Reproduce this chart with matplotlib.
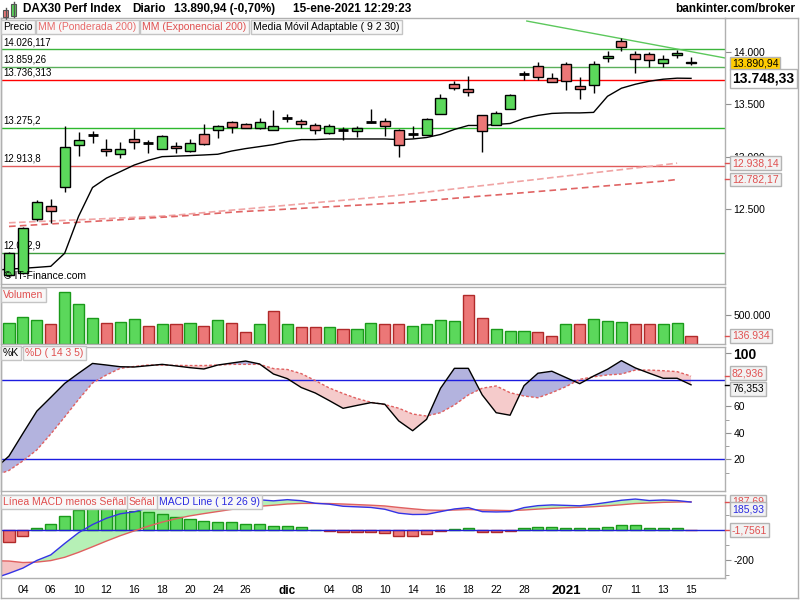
import numpy as np
import matplotlib
matplotlib.use('Agg')
import matplotlib.pyplot as plt
from matplotlib.patches import Rectangle
from matplotlib.lines import Line2D
from matplotlib.ticker import FuncFormatter

plt.rcParams.update({
    'font.family': ['Liberation Sans', 'DejaVu Sans'],
    'font.size': 7,
    'axes.linewidth': 1,
})

# ---- data (bar 1 = 03-nov-2020 ... bar 50 = 15-ene-2021) ----
opens = [11870, 11890, 12407, 12526, 12707, 13109, 13210, 13070, 13028, 13166,
         13128, 13076, 13102, 13051, 13214, 13252, 13334, 13309, 13271, 13258,
         13372, 13338, 13300, 13223, 13258, 13242, 13334, 13338, 13252, 13219,
         13210, 13411, 13694, 13644, 13395, 13305, 13453, 13787, 13866, 13749,
         13885, 13675, 13682, 13940, 14102, 13981, 13981, 13892, 13968, 13904]
highs = [12090, 12325, 12586, 12596, 13293, 13233, 13248, 13166, 13137, 13264,
         13159, 13204, 13137, 13169, 13312, 13303, 13345, 13318, 13365, 13446,
         13408, 13363, 13319, 13309, 13281, 13293, 13455, 13369, 13261, 13293,
         13367, 13599, 13723, 13771, 13398, 13439, 13599, 13818, 13904, 13802,
         13904, 13758, 13911, 14010, 14131, 14012, 13997, 13968, 14019, 13949]
lows = [11850, 11875, 12388, 12363, 12665, 13009, 13134, 13009, 12990, 13073,
        13038, 13070, 13032, 13049, 13116, 13181, 13229, 13274, 13269, 13252,
        13328, 13277, 13214, 13221, 13156, 13191, 13319, 13200, 13000, 13181,
        13207, 13405, 13637, 13580, 13047, 13303, 13451, 13732, 13732, 13709,
        13637, 13551, 13611, 13902, 14007, 13802, 13860, 13860, 13940, 13873]
closes = [12084, 12318, 12564, 12478, 13090, 13156, 13210, 13051, 13070, 13137,
          13128, 13197, 13080, 13128, 13118, 13293, 13281, 13277, 13328, 13290,
          13372, 13309, 13252, 13290, 13258, 13277, 13334, 13290, 13109, 13219,
          13357, 13558, 13656, 13621, 13245, 13414, 13589, 13787, 13758, 13711,
          13720, 13644, 13885, 13962, 14045, 13930, 13921, 13930, 13990, 13890.94]
volume = [370000, 476000, 424000, 353000, 912000, 706000, 459000, 371000, 388000, 441000,
          318000, 341000, 341000, 371000, 318000, 424000, 371000, 212000, 341000, 582000,
          341000, 300000, 300000, 300000, 265000, 265000, 371000, 341000, 353000, 318000,
          353000, 424000, 406000, 865000, 459000, 265000, 229000, 229000, 212000, 141000,
          353000, 341000, 441000, 406000, 388000, 341000, 353000, 341000, 371000, 136934]

# weighted / exponential MA 200 (bars 1..49)
wma200 = [12368, 12374, 12380, 12385, 12391, 12397, 12402, 12408, 12414, 12420,
          12426, 12432, 12441, 12453, 12465, 12477, 12489, 12500, 12512, 12524,
          12536, 12548, 12560, 12572, 12583, 12595, 12607, 12619, 12631, 12646,
          12661, 12677, 12692, 12708, 12723, 12738, 12754, 12769, 12784, 12800,
          12815, 12830, 12846, 12861, 12876, 12892, 12907, 12922, 12938]
ema200 = [12333, 12341, 12349, 12357, 12365, 12373, 12381, 12389, 12397, 12405,
          12413, 12421, 12429, 12439, 12449, 12459, 12469, 12477, 12484, 12491,
          12499, 12506, 12514, 12521, 12528, 12536, 12543, 12551, 12558, 12569,
          12580, 12591, 12602, 12613, 12624, 12634, 12645, 12656, 12667, 12678,
          12689, 12700, 12711, 12722, 12733, 12744, 12755, 12766, 12782]

# indicator series start one bar earlier (bar 0 = 02-nov)
ama = [11915, 11925, 11933, 11942, 11952, 12077, 12430, 12705, 12795, 12857,
       12920, 12965, 13000, 13005, 13010, 13016, 13023, 13054, 13077, 13096,
       13115, 13144, 13163, 13163, 13169, 13169, 13169, 13169, 13169, 13163,
       13169, 13183, 13212, 13260, 13298, 13298, 13308, 13317, 13365, 13394,
       13413, 13418, 13418, 13423, 13577, 13654, 13692, 13721, 13740, 13750, 13748.33]
stoch_k = [13, 22.6, 39.7, 56.5, 66.9, 77.4, 85.1, 92.5, 91.3, 90.0, 89.8, 90.8, 91.8,
           90.6, 89.3, 88.3, 91.3, 92.8, 94.3, 92.1, 84.5, 81.0, 74.3, 70.2, 64.5, 58.6,
           60.8, 62.9, 61.7, 49.1, 41.7, 50.3, 73.7, 88.8, 88.8, 68.7, 55.3, 53.4, 75.7,
           85.1, 86.6, 81.9, 77.2, 83.0, 88.1, 94.6, 89.1, 85.1, 81.3, 81.3, 76.353]
stoch_d = [8, 11.7, 18.9, 27.2, 39.2, 52.1, 65.3, 77.7, 83.8, 88.8, 90.2, 91.3, 91.2,
           91.0, 90.9, 90.9, 91.3, 91.8, 91.8, 91.8, 88.6, 87.9, 84.8, 79.6, 74.0, 69.8,
           66.0, 63.2, 61.4, 58.7, 54.3, 52.8, 55.3, 61.1, 68.7, 73.8, 75.5, 70.4, 67.9,
           66.6, 70.4, 74.9, 80.5, 82.4, 83.8, 84.5, 87.5, 87.5, 87.0, 86.3, 82.936]
macd = [-320, -289, -254, -203, -166, -90, -18, 36, 78, 108, 121, 148, 161, 164, 170,
        169, 179, 193, 190, 201, 194, 202, 195, 178, 172, 158, 154, 150, 138, 112, 103,
        104, 122, 140, 149, 122, 120, 122, 149, 162, 167, 164, 161, 171, 184, 198, 206,
        196, 200, 196, 185.93]
signal = [-205, -207, -217, -214, -204, -182, -149, -112, -74, -38, -6, 25, 52, 75, 94,
          109, 123, 137, 147, 158, 165, 173, 177, 177, 176, 173, 169, 165, 160, 150, 141,
          133, 131, 133, 136, 133, 131, 129, 133, 139, 144, 148, 151, 155, 161, 168, 176,
          180, 184, 186, 187.69]
macd_hist = [-82, -38, 11, 38, 91, 131, 148, 152, 145, 127, 123, 109, 89, 76, 60, 56,
             56, 43, 43, 29, 29, 18, 1, -4, -15, -15, -15, -22, -38, -38, -29, -9, 7, 13,
             -11, -11, -7, 16, 23, 23, 16, 10, 16, 23, 30, 30, 16, 16, 10, -1.7561]

levels = [14026.117, 13859.26, 13736.313, 13275.2, 12913.8, 12082.9]
level_labels = ['14.026,117', '13.859,26', '13.736,313', '13.275,2', '12.913,8', '12.082,9']
level_colors = ['#3cb43c', '#5aaf5a', '#ff0000', '#2db82d', '#e05a5a', '#3c9c3c']
trend_x = [38.2, 52.44]
trend_y = [14296, 13943]

tick_bars = [2, 4, 6, 8, 10, 12, 14, 16, 18, 21, 24, 26, 28, 30, 32, 34, 36, 38, 41, 44, 46, 48, 50]
tick_labels = ['04', '06', '10', '12', '16', '18', '20', '24', '26', 'dic', '04', '08', '10',
               '14', '16', '18', '22', '28', '2021', '07', '11', '13', '15']

bars = np.arange(1, len(closes) + 1)
ind_x = np.arange(0, len(closes) + 1)

GREEN = '#5bd85b'
GREEN_E = '#1a9a1a'
RED = '#ec7777'
RED_E = '#b02a2a'
SPINE = '#b0b0b0'

W, H = 800, 600
fig = plt.figure(figsize=(8, 6), dpi=100)


def rect(x0, y0, x1, y1):
    return [x0 / W, 1 - y1 / H, (x1 - x0) / W, (y1 - y0) / H]


ax_p = fig.add_axes(rect(1, 18, 725, 284))
ax_v = fig.add_axes(rect(1, 287, 725, 343.5), sharex=ax_p)
ax_s = fig.add_axes(rect(1, 347, 725, 491), sharex=ax_p)
ax_m = fig.add_axes(rect(1, 495, 725, 578), sharex=ax_p)

for ax in (ax_p, ax_v, ax_s, ax_m):
    for sp in ax.spines.values():
        sp.set_color(SPINE)
    ax.yaxis.tick_right()
    ax.tick_params(axis='y', which='both', length=4, color='#909090', labelsize=7.5, pad=2)
    ax.tick_params(axis='y', which='minor', length=3)
    ax.tick_params(axis='x', bottom=False, labelbottom=False)

ax_p.set_xlim(0.425, 52.44)

# ---- price panel ----
ax_p.set_ylim(11783, 14325)
for lv, lab, col in zip(levels, level_labels, level_colors):
    ax_p.axhline(lv, color=col, lw=1, zorder=1)
    ax_p.annotate(lab, xy=(0, lv), xycoords=('axes fraction', 'data'), xytext=(2, 2),
                  textcoords='offset pixels', va='bottom', ha='left', fontsize=7)
ax_p.plot(trend_x, trend_y, color='#5cc85c', lw=1, zorder=1)
ax_p.plot(bars[:len(wma200)], wma200, color='#f0a4a4', lw=1.2, ls=(0, (4, 2)), zorder=2)
ax_p.plot(bars[:len(ema200)], ema200, color='#e06464', lw=1.2, ls=(0, (4, 2.5)), zorder=2)
ax_p.plot(ind_x, ama, color='black', lw=1, zorder=2)

bw = 0.72
for i, o, h, l, c in zip(bars, opens, highs, lows, closes):
    ax_p.vlines(i, l, h, color='black', lw=1, zorder=3)
    if c == o:
        ax_p.hlines(o, i - bw / 2, i + bw / 2, color='black', lw=2, zorder=4)
    else:
        face = GREEN if c > o else RED
        ax_p.add_patch(Rectangle((i - bw / 2, min(o, c)), bw, abs(c - o),
                                 facecolor=face, edgecolor='black', lw=1, zorder=4))

es_fmt = FuncFormatter(lambda v, p: f'{v:,.0f}'.replace(',', '.'))
ax_p.set_yticks([12500, 13000, 13500, 14000])
ax_p.yaxis.set_major_formatter(es_fmt)
ax_p.text(0.004, 0.012, '\u00a9 IT-Finance.com', transform=ax_p.transAxes, fontsize=7.5,
          va='bottom', ha='left', zorder=6)


def tag(ax, y, text, color, face, dy=0, size=7.5, weight='normal', z=5, tick=True):
    if tick:
        ax.plot([1.0, 1.0 + 5 / 724], [y, y], color=color, lw=1,
                transform=ax.get_yaxis_transform(), clip_on=False, zorder=z)
    ax.annotate(text, xy=(1, y), xycoords=('axes fraction', 'data'), xytext=(7, dy),
                textcoords='offset pixels', ha='left', va='center', color=color,
                fontsize=size, fontweight=weight, annotation_clip=False, zorder=z,
                bbox=dict(boxstyle='square,pad=0.18', fc=face, ec='#b4b4b4', lw=1))


tag(ax_p, closes[-1], '13.890,94', 'black', '#ffcc00', tick=False)
tag(ax_p, ama[-1], '13.748,33', 'black', 'white', size=10, weight='bold', tick=False)
tag(ax_p, wma200[-1], '12.938,14', '#e05050', '#f2f2f2')
tag(ax_p, ema200[-1], '12.782,17', '#e05050', '#f2f2f2')

# ---- volume panel ----
ax_v.set_ylim(0, 1000000)
vcols = [GREEN if k == 0 or closes[k] >= closes[k - 1] else RED for k in range(len(closes))]
vedge = [GREEN_E if c == GREEN else RED_E for c in vcols]
ax_v.bar(bars, volume, width=0.8, color=vcols, edgecolor=vedge, lw=1)
ax_v.set_yticks([500000])
ax_v.yaxis.set_major_formatter(es_fmt)
tag(ax_v, volume[-1], '136.934', '#e05050', '#f2f2f2')

# ---- stochastic panel ----
k = np.array(stoch_k)
d = np.array(stoch_d)
ax_s.set_ylim(-3.8, 104.9)
ax_s.fill_between(ind_x, k, d, where=k >= d, interpolate=True, color='#b3b3de', lw=0)
ax_s.fill_between(ind_x, k, d, where=k < d, interpolate=True, color='#f5cbcb', lw=0)
ax_s.axhline(80, color='#1c1ce0', lw=1)
ax_s.axhline(20, color='#1c1ce0', lw=1)
ax_s.plot(ind_x, d, color='#e06060', lw=1, ls=(0, (2, 1.5)))
ax_s.plot(ind_x, k, color='black', lw=1)
ax_s.set_yticks([20, 40, 60, 100], labels=['20', '40', '60', '100'])
ax_s.set_yticks([10, 30, 50], minor=True)
ax_s.get_yticklabels()[-1].set_fontweight('bold')
ax_s.get_yticklabels()[-1].set_fontsize(10)
tag(ax_s, stoch_d[-1], '82,936', '#e05050', '#f2f2f2', dy=3)
tag(ax_s, stoch_k[-1], '76,353', 'black', '#f2f2f2', dy=-4)

# ---- MACD panel ----
mx = np.array(macd)
sg = np.array(signal)
ax_m.set_ylim(-320, 233)
ax_m.fill_between(ind_x, mx, sg, where=mx >= sg, interpolate=True, color='#b6f0b6', lw=0)
ax_m.fill_between(ind_x, mx, sg, where=mx < sg, interpolate=True, color='#f5c2c2', lw=0)
hcols = [GREEN if v >= 0 else RED for v in macd_hist]
hedge = [GREEN_E if v >= 0 else RED_E for v in macd_hist]
ax_m.bar(bars, macd_hist, width=0.8, color=hcols, edgecolor=hedge, lw=1, zorder=2)
ax_m.axhline(0, color='#2020d8', lw=1, zorder=3)
ax_m.plot(ind_x, sg, color='#e06060', lw=1, zorder=3)
ax_m.plot(ind_x, mx, color='#3434e6', lw=1, zorder=3)
ax_m.set_yticks([-200], labels=['-200'])
ax_m.set_yticks([-300, -100, 100], minor=True)
tag(ax_m, signal[-1], '187,69', '#e05050', '#f2f2f2', z=4)
tag(ax_m, macd[-1], '185,93', '#2a2ae0', '#f2f2f2', dy=-7, z=6, tick=False)
tag(ax_m, macd_hist[-1], '-1,7561', '#e05050', '#f2f2f2')

ax_m.set_xticks(tick_bars, labels=tick_labels)
ax_m.tick_params(axis='x', bottom=True, labelbottom=True, length=0, pad=5, labelsize=7.5)
for lbl in ax_m.get_xticklabels():
    if lbl.get_text() in ('dic', '2021'):
        lbl.set_fontweight('bold')
        lbl.set_fontsize(8.5 if lbl.get_text() == 'dic' else 9.5)


# ---- legends / header ----
def legend_box(x, y, text, color):
    fig.text(x / W, 1 - y / H, text, color=color, fontsize=7.5, ha='left', va='center',
             bbox=dict(boxstyle='square,pad=0.22', fc='#f8f8f8', ec='#c4c4c4', lw=1))


legend_box(3, 27, 'Precio', 'black')
legend_box(38, 27, 'MM (Ponderada 200)', '#e86a6a')
legend_box(142, 27, 'MM (Exponencial 200)', '#e05050')
legend_box(253, 27, 'Media M\u00f3vil Adaptable ( 9 2 30)', 'black')
legend_box(3, 295, 'Volumen', '#e05050')
legend_box(3, 353, '%K', 'black')
legend_box(25, 353, '%D ( 14 3 5)', '#e05050')
legend_box(3, 502, 'L\u00ednea MACD menos Se\u00f1al', '#e05050')
legend_box(129, 502, 'Se\u00f1al', '#e05050')
legend_box(159, 502, 'MACD Line ( 12 26 9)', '#2a2ae0')

hy = 1 - 9 / H
for x, s in [(23, 'DAX30 Perf Index'), (132, 'Diario'), (174, '13.890,94 (-0,70%)'),
             (293, '15-ene-2021 12:29:23')]:
    fig.text(x / W, hy, s, fontsize=8.5, fontweight='bold', ha='left', va='center')
fig.text(795 / W, hy, 'bankinter.com/broker', fontsize=8.5, fontweight='bold',
         ha='right', va='center')

# small candle icon
fig.add_artist(Line2D([5.5 / W, 5.5 / W], [1 - 19 / H, 1 - 8 / H], color='#555555', lw=1))
fig.add_artist(Rectangle((3 / W, 1 - 17 / H), 5 / W, 7 / H, fc=RED, ec='#555555', lw=0.8))
fig.add_artist(Line2D([13.5 / W, 13.5 / W], [1 - 17 / H, 1 - 2 / H], color='#555555', lw=1))
fig.add_artist(Rectangle((11 / W, 1 - 16 / H), 5 / W, 12 / H, fc=GREEN, ec='#555555', lw=0.8))

# outer frame
for xs, ys in [([1, 1], [18, 598]), ([798, 798], [18, 598]), ([1, 798], [598, 598]),
               ([725, 798], [18, 18])]:
    fig.add_artist(Line2D([v / W for v in xs], [1 - v / H for v in ys], color=SPINE, lw=1))

fig.savefig('out.png', dpi=100)
